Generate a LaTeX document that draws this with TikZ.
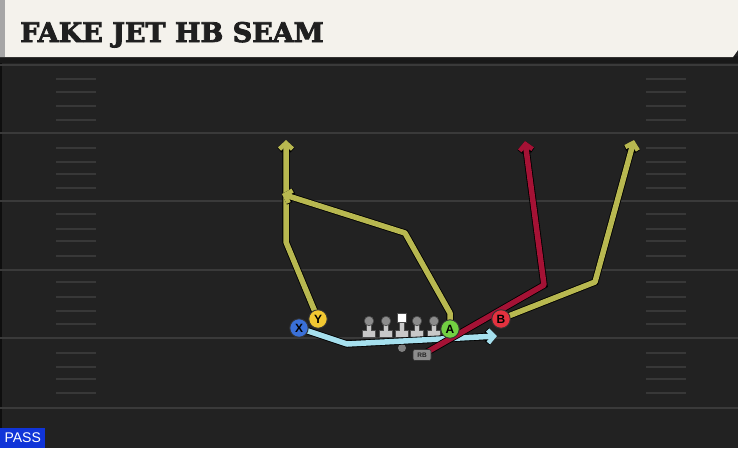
\documentclass[tikz,border=0pt]{standalone}
\usepackage{fontspec}
\usetikzlibrary{arrows.meta}
\newfontfamily\titlefont{DejaVu Serif Bold}[FakeBold=3]
\newfontfamily\labfont{Liberation Sans}
\definecolor{field}{HTML}{222222}
\definecolor{yard}{HTML}{3A3A3A}
\definecolor{hash}{HTML}{383838}
\definecolor{cream}{HTML}{F4F2EC}
\definecolor{olive}{HTML}{B8B850}
\definecolor{crim}{HTML}{A51235}
\definecolor{cyanr}{HTML}{A6E0EE}
\definecolor{xblue}{HTML}{3A70D8}
\definecolor{yyel}{HTML}{F2C832}
\definecolor{agrn}{HTML}{72D042}
\definecolor{bred}{HTML}{E3323F}
\definecolor{passblue}{HTML}{1034D8}
\definecolor{lgray}{HTML}{C8C8C8}
\tikzset{
  route/.style={draw=#1, line width=5.5pt, line join=round, line cap=round,
    -{Straight Barb[length=6pt,width=13pt,line width=4.5pt]},
    preaction={draw=black, line width=7.2pt, -{Straight Barb[length=6pt,width=13pt,line width=6.2pt]}}},
  player/.style={circle, fill=#1, draw=black!80, line width=0.9pt, minimum size=18.5pt, inner sep=0pt,
    font=\labfont\bfseries\fontsize{12}{12}\selectfont, text=black},
  yardline/.style={draw=yard, line width=2pt},
  hashmark/.style={draw=hash, line width=1.5pt},
}
\begin{document}
\begin{tikzpicture}[x=1pt,y=-1pt]
\useasboundingbox (0,0) rectangle (738,448);
% field
\fill[field] (0,0) rectangle (738,448);
\draw[draw=black!60!field, line width=1.5pt] (1,60) -- (1,448);
% yard lines
\foreach \yy in {133,201,270,338,408} {\draw[yardline] (0,\yy) -- (738,\yy);}
\draw[yardline] (0,65) -- (738,65);
% hash marks
\foreach \yy in {79,92,106,120,148,162,174,188,214,229,241,256,282,297,311,324,353,367,379,393} {
  \draw[hashmark] (56,\yy) -- (96,\yy);
  \draw[hashmark] (646,\yy) -- (686,\yy);
}
% header
\fill[black!90] (0,56) rectangle (738,63);
\fill[cream] (0,0) -- (738,0) -- (738,50) -- (733,57) -- (0,57) -- cycle;
\fill[black!35] (0,0) rectangle (5,57);
\node[anchor=base west, inner sep=0pt, font=\titlefont\fontsize{27}{28}\selectfont, text=black!88] (title) at (20,42) {FAKE JET HB SEAM};
% PASS
\node[anchor=south west, fill=passblue, text=white, inner sep=0pt, minimum width=45pt, minimum height=20pt,
  font=\labfont\fontsize{14}{14}\selectfont] (pass) at (0,448) {PASS};
% coordinates
\coordinate (xbend) at (347,344);
\coordinate (xend) at (497,336);
\coordinate (ybend) at (286,242);
\coordinate (yend) at (286,140);
\coordinate (abend1) at (450,313);
\coordinate (abend2) at (405,233);
\coordinate (aend) at (282,194);
\coordinate (rbend) at (544,285);
\coordinate (rbtip) at (525,141);
\coordinate (bbend) at (595,282);
\coordinate (btip) at (634,140);
% players positions
\coordinate (Xp) at (299,328);
\coordinate (Yp) at (318,319);
\coordinate (Ap) at (450,329);
\coordinate (Bp) at (501,319);
\coordinate (RBp) at (422,355);
% linemen
\foreach \lx/\nm in {369/l1,386/l2,417/l4,434/l5} {
  \fill[lgray, draw=black!70, line width=0.6pt] (\lx-2.6,323) -- (\lx-2.6,330) -- (\lx-6.5,330) -- (\lx-6.5,337) -- (\lx+6.5,337) -- (\lx+6.5,330) -- (\lx+2.6,330) -- (\lx+2.6,323) -- cycle;
  \node[circle, fill=black!45, draw=black!70, line width=0.6pt, minimum size=9.5pt, inner sep=0pt] (\nm) at (\lx,321) {};
}
\fill[lgray, draw=black!70, line width=0.6pt] (402-2.6,321) -- (402-2.6,330) -- (402-6.5,330) -- (402-6.5,337) -- (402+6.5,337) -- (402+6.5,330) -- (402+2.6,330) -- (402+2.6,321) -- cycle;
\node[rectangle, fill=white, draw=black!70, line width=0.6pt, minimum size=9.5pt, inner sep=0pt] (ctr) at (402,318) {};
% ball
\node[circle, fill=black!50, minimum size=8pt, inner sep=0pt] (ball) at (402,348) {};
% routes
\draw[route=cyanr] (Xp) -- (xbend) -- (xend);
\draw[route=olive] (Yp) -- (ybend) -- (yend);
\draw[route=olive] (Ap) -- (abend1) -- (abend2) -- (aend);
\draw[route=crim] (RBp) -- (rbend) -- (rbtip);
\draw[route=olive] (Bp) -- (bbend) -- (btip);
% players
\node[rounded corners=2pt, fill=black!45, draw=black!80, line width=0.6pt, minimum width=18pt, minimum height=11pt, inner sep=0pt,
  font=\labfont\bfseries\fontsize{6.5}{6.5}\selectfont, text=black!85] (RB) at (RBp) {RB};
\node[player=xblue] (X) at (Xp) {X};
\node[player=yyel] (Y) at (Yp) {Y};
\node[player=agrn] (A) at (Ap) {A};
\node[player=bred] (B) at (Bp) {B};
\end{tikzpicture}
\end{document}
